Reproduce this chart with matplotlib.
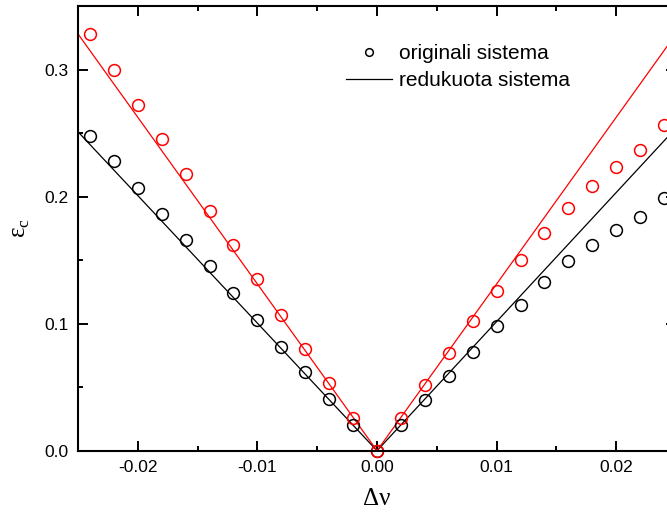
import numpy as np
import matplotlib.pyplot as plt
from matplotlib.ticker import MultipleLocator, FormatStrFormatter

plt.rcParams['font.family'] = ['Liberation Sans', 'DejaVu Sans']
plt.rcParams['mathtext.fontset'] = 'custom'
plt.rcParams['mathtext.rm'] = 'Liberation Serif'

# detuning points of the original system
dnu = [-0.024, -0.022, -0.020, -0.018, -0.016, -0.014, -0.012, -0.010, -0.008,
       -0.006, -0.004, -0.002, 0.0, 0.002, 0.004, 0.006, 0.008, 0.010, 0.012,
       0.014, 0.016, 0.018, 0.020, 0.022, 0.024]
orig_black = [0.248, 0.228, 0.207, 0.186, 0.166, 0.145, 0.124, 0.103, 0.082,
              0.062, 0.041, 0.020, 0.0, 0.020, 0.040, 0.059, 0.078, 0.098,
              0.115, 0.133, 0.149, 0.162, 0.174, 0.184, 0.199]
orig_red = [0.328, 0.300, 0.272, 0.245, 0.218, 0.189, 0.162, 0.135, 0.107,
            0.080, 0.053, 0.026, 0.0, 0.026, 0.052, 0.077, 0.102, 0.126,
            0.150, 0.171, 0.191, 0.208, 0.223, 0.237, 0.256]

# reduced system (straight lines)
line_x = [-0.025, 0.0, 0.025]
red_black = [0.251, 0.0, 0.254]
red_red = [0.328, 0.0, 0.328]

fig = plt.figure(figsize=(6.67, 5.17), dpi=100)
ax = fig.add_axes([78 / 667, 1 - 450.7 / 517, 598 / 667, 444.7 / 517])

ax.plot(line_x, red_black, '-', color='black', lw=0.9, label='redukuota sistema')
ax.plot(line_x, red_red, '-', color='#ff0000', lw=0.9)
ax.plot(dnu, orig_black, 'o', mfc='none', mec='black', ms=8.5, mew=1.1,
        clip_on=False, label='originali sistema')
ax.plot(dnu, orig_red, 'o', mfc='none', mec='#ff0000', ms=8.5, mew=1.1,
        clip_on=False)

ax.set_xlim(-0.025, 0.025)
ax.set_ylim(0, 0.35)
ax.xaxis.set_major_locator(MultipleLocator(0.01))
ax.xaxis.set_minor_locator(MultipleLocator(0.005))
ax.yaxis.set_major_locator(MultipleLocator(0.1))
ax.yaxis.set_minor_locator(MultipleLocator(0.05))
ax.xaxis.set_major_formatter(FormatStrFormatter('%.2f'))
ax.yaxis.set_major_formatter(FormatStrFormatter('%.1f'))
ax.tick_params(which='both', direction='in', top=True, right=True, width=1.4,
               labelsize=12.5)
ax.tick_params(which='major', length=7, pad=7)
ax.tick_params(which='minor', length=3.5)
for s in ax.spines.values():
    s.set_linewidth(1.5)

ax.set_xlabel('Δν', fontsize=18, labelpad=9, family='Liberation Serif')
ax.set_ylabel(r'ε$_\mathrm{c}$', fontsize=18, labelpad=9,
              family='Liberation Serif')

handles, labels = ax.get_legend_handles_labels()
ax.legend(handles[::-1], labels[::-1], loc='upper left', frameon=False,
          fontsize=15, markerscale=0.65, handlelength=2.2, handletextpad=0.35,
          labelspacing=0.4, borderpad=0, borderaxespad=0,
          bbox_to_anchor=(346 / 667, 1 - 44 / 517),
          bbox_transform=fig.transFigure)

fig.savefig('out.png', dpi=100)
